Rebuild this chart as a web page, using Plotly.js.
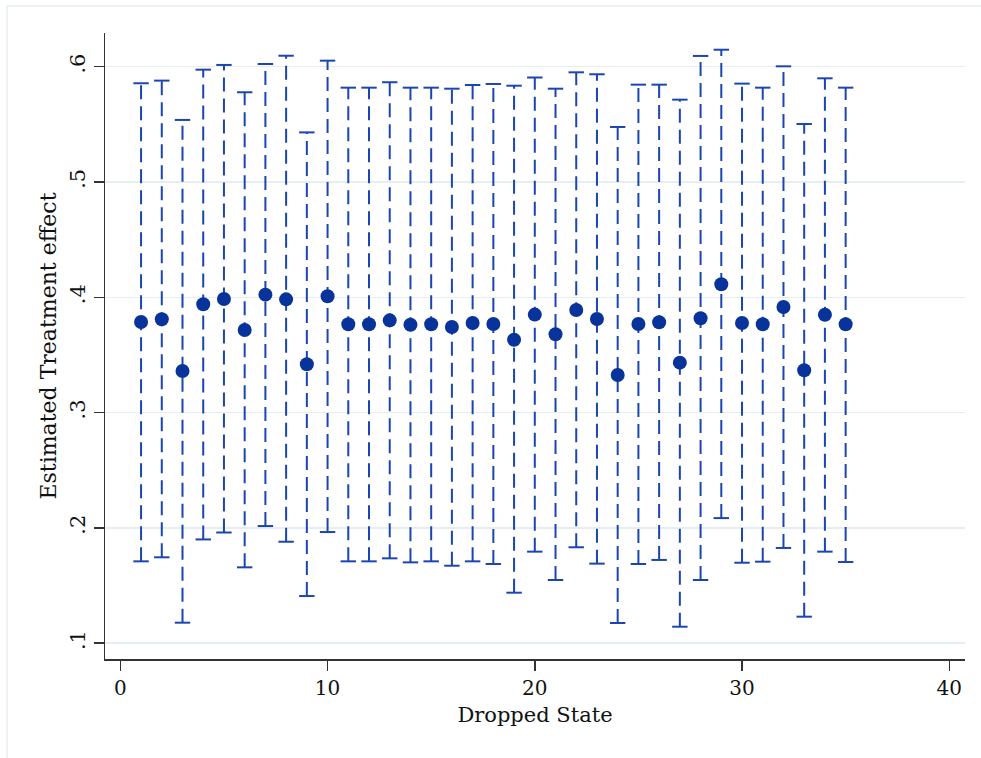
<!DOCTYPE html>
<html>
<head>
<meta charset="utf-8">
<script src="https://cdn.plot.ly/plotly-3.0.1.min.js"></script>
<style>
  html, body { margin: 0; padding: 0; background: #ffffff; }
  #chart { width: 981px; height: 758px; }
</style>
</head>
<body>
<div id="chart"></div>
<script>
// Dropped state index
const states = [1,2,3,4,5,6,7,8,9,10,11,12,13,14,15,16,17,18,19,20,21,22,23,24,25,26,27,28,29,30,31,32,33,34,35];
// Point estimates
const estimate = [0.3786,0.3809,0.3361,0.3939,0.3985,0.3716,0.4023,0.3982,0.3419,0.4009,
                  0.3766,0.3766,0.3800,0.3762,0.3766,0.3742,0.3777,0.3768,0.3632,0.3850,
                  0.3679,0.3890,0.3812,0.3326,0.3768,0.3783,0.3433,0.3818,0.4113,0.3777,
                  0.3766,0.3916,0.3367,0.3849,0.3766];
// Lower CI bound
const ciLow = [0.1710,0.1745,0.1178,0.1900,0.1960,0.1658,0.2016,0.1880,0.1409,0.1964,
               0.1710,0.1710,0.1736,0.1701,0.1710,0.1672,0.1710,0.1687,0.1438,0.1794,
               0.1548,0.1832,0.1690,0.1175,0.1687,0.1722,0.1143,0.1548,0.2085,0.1698,
               0.1707,0.1826,0.1230,0.1794,0.1704];
// Upper CI bound
const ciHigh = [0.5856,0.5879,0.5538,0.5974,0.6015,0.5778,0.6023,0.6095,0.5430,0.6052,
                0.5818,0.5818,0.5865,0.5818,0.5818,0.5809,0.5841,0.5850,0.5835,0.5906,
                0.5809,0.5951,0.5934,0.5477,0.5844,0.5844,0.5714,0.6093,0.6147,0.5853,
                0.5818,0.6003,0.5503,0.5899,0.5818];

const xTicks = [0,10,20,30,40];
const xTickText = ['0','10','20','30','40'];
const yTicks = [0.1,0.2,0.3,0.4,0.5,0.6];
const yTickText = ['.1','.2','.3','.4','.5','.6'];

const lineColor = '#1b45b0';
const markColor = '#08339a';

// Build dashed vertical CI segments from the arrays
const segX = [], segY = [];
states.forEach((s, i) => {
  segX.push(s, s, null);
  segY.push(ciLow[i], ciHigh[i], null);
});

const traces = [
  {
    x: segX, y: segY, type: 'scatter', mode: 'lines',
    line: { color: lineColor, width: 2, dash: '14px,7px' },
    hoverinfo: 'skip', showlegend: false
  },
  {
    x: states.concat(states), y: ciLow.concat(ciHigh), type: 'scatter', mode: 'markers',
    marker: { symbol: 'line-ew', size: 11, line: { color: lineColor, width: 2 } },
    hoverinfo: 'skip', showlegend: false
  },
  {
    x: states, y: estimate, type: 'scatter', mode: 'markers',
    marker: { color: markColor, size: 14, line: { width: 0 } },
    showlegend: false
  }
];

const fontFam = '"DejaVu Serif", "Liberation Serif", serif';
const axisCol = '#333333';

const layout = {
  width: 981, height: 758,
  margin: { l: 105, r: 16, t: 33, b: 99 },
  paper_bgcolor: '#ffffff', plot_bgcolor: '#ffffff',
  showlegend: false,
  font: { family: fontFam, color: '#111111', size: 20 },
  xaxis: {
    range: [-0.74, 40.76],
    tickmode: 'array', tickvals: xTicks, ticktext: xTickText,
    ticks: 'outside', ticklen: 10, tickwidth: 1.5, tickcolor: axisCol,
    showline: true, linecolor: axisCol, linewidth: 1.5,
    showgrid: false, zeroline: false,
    tickfont: { family: fontFam, size: 20, color: '#111111' },
    title: { text: 'Dropped State', font: { family: fontFam, size: 21, color: '#111111' }, standoff: 9 }
  },
  yaxis: {
    range: [0.0863, 0.6292],
    tickmode: 'array', tickvals: yTicks, ticktext: yTickText,
    tickangle: -90,
    ticks: 'outside', ticklen: 10, tickwidth: 1.5, tickcolor: axisCol,
    showline: true, linecolor: axisCol, linewidth: 1.5,
    showgrid: true, gridcolor: '#e6eef2', gridwidth: 1.5,
    zeroline: false,
    tickfont: { family: fontFam, size: 21, color: '#111111' },
    title: { text: 'Estimated Treatment effect', font: { family: fontFam, size: 22, color: '#111111' }, standoff: 3 }
  },
  shapes: [
    {
      type: 'rect', xref: 'paper', yref: 'paper', layer: 'below',
      x0: (7 - 105) / 860, x1: (1000 - 105) / 860,
      y0: (659 - 780) / 626, y1: (659 - 6) / 626,
      line: { color: '#e8eef2', width: 1.5 }, fillcolor: 'rgba(0,0,0,0)'
    }
  ]
};

Plotly.newPlot('chart', traces, layout, { displayModeBar: false, staticPlot: true });
</script>
</body>
</html>
